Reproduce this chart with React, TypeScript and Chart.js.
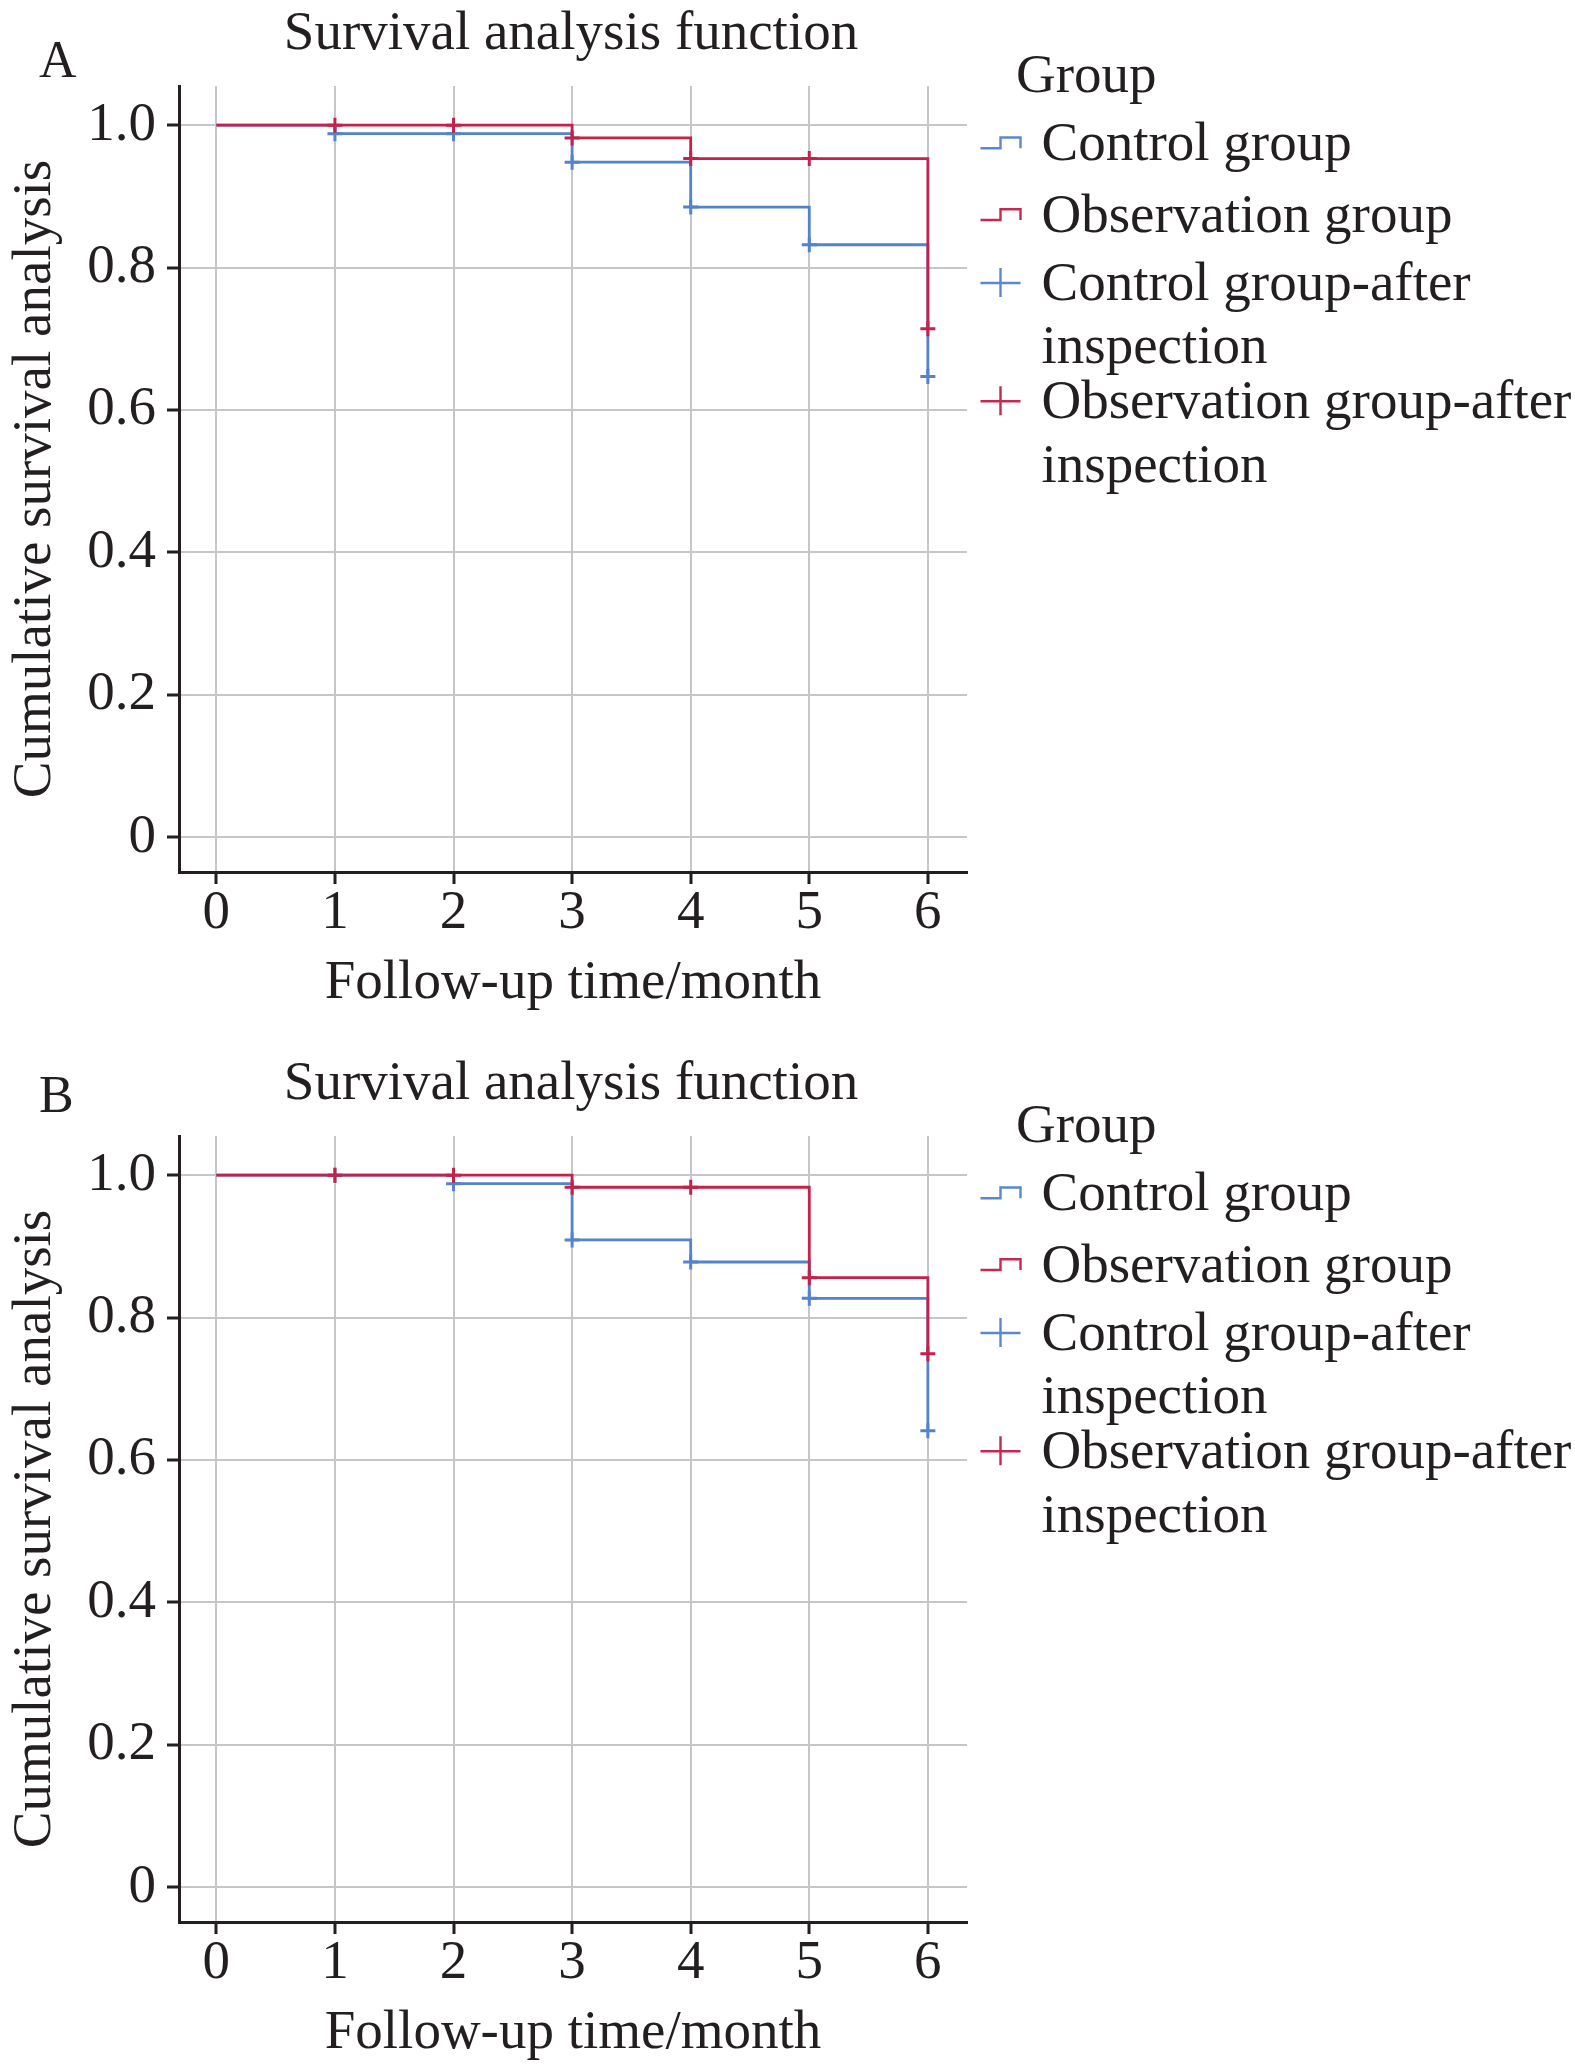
import React, { useEffect, useRef } from "react";
import { Chart, registerables } from "chart.js";

Chart.register(...registerables);

// ---------------- data ----------------
const months = [0, 1, 2, 3, 4, 5, 6];
const xTickLabels = ["0", "1", "2", "3", "4", "5", "6"];
const yTickValues = [0, 0.2, 0.4, 0.6, 0.8, 1.0];
const yTickLabels = ["0", "0.2", "0.4", "0.6", "0.8", "1.0"];

// Panel A – cumulative survival at each month (step drops at that month)
const controlA = [1.0, 0.988, 0.988, 0.948, 0.885, 0.832, 0.647];
const observationA = [1.0, 1.0, 1.0, 0.982, 0.953, 0.953, 0.714];
const controlCensorA = [null, 0.988, 0.988, 0.948, 0.885, 0.832, 0.647];
const observationCensorA = [null, 1.0, 1.0, 0.982, 0.953, 0.953, 0.714];

// Panel B
const controlB = [1.0, 1.0, 0.988, 0.909, 0.878, 0.827, 0.641];
const observationB = [1.0, 1.0, 1.0, 0.983, 0.983, 0.856, 0.749];
const controlCensorB = [null, 1.0, 0.988, 0.909, 0.878, 0.827, 0.641];
const observationCensorB = [null, 1.0, 1.0, 0.983, 0.983, 0.856, 0.749];

const panelLetters = ["A", "B"];
const chartTitle = "Survival analysis function";
const xAxisTitle = "Follow-up time/month";
const yAxisTitle = "Cumulative survival analysis";
const legendTitle = "Group";
const legendLabels = [
  ["Control group"],
  ["Observation group"],
  ["Control group-after", "inspection"],
  ["Observation group-after", "inspection"],
];
const legendSymbols = ["step", "step", "cross", "cross"];

// ---------------- styles ----------------
const FONT = '"Liberation Serif", "Times New Roman", serif';
const FS = 55;
const TEXT = "#231f20";
const BLUE = "#5283cc";
const RED = "#c4214b";
const LEGEND_BLUE = "#5b88cc";
const LEGEND_RED = "#c22a52";
const GRID = "#c6c6c6";
const W = 1575;
const H = 1021;
const PAD_BOTTOM = 4;

const toPoints = (vals: (number | null)[]) =>
  months
    .map((m, i) => ({ x: m, y: vals[i] }))
    .filter((p) => p.y !== null) as { x: number; y: number }[];

const decorPlugin = {
  id: "panelDecor",
  afterDraw(chart: any, _args: any, opts: any) {
    const ctx = chart.ctx as CanvasRenderingContext2D;
    ctx.save();
    ctx.fillStyle = TEXT;
    ctx.textBaseline = "alphabetic";
    // title
    ctx.font = `${FS}px ${FONT}`;
    ctx.textAlign = "center";
    ctx.fillText(opts.title, 571, 49);
    // panel letter
    ctx.font = `52px ${FONT}`;
    ctx.textAlign = "left";
    ctx.fillText(opts.letter, 39, opts.letterY);
    // legend
    ctx.font = `${FS}px ${FONT}`;
    ctx.fillText(legendTitle, 1016, 92);
    const baselines = [160, 231.7, 300, 418.3];
    const colors = [LEGEND_BLUE, LEGEND_RED, LEGEND_BLUE, LEGEND_RED];
    legendLabels.forEach((lines, i) => {
      const b = baselines[i];
      lines.forEach((ln, j) => ctx.fillText(ln, 1041.5, b + j * 63.3));
      ctx.strokeStyle = colors[i];
      ctx.lineWidth = 2.4;
      ctx.beginPath();
      if (legendSymbols[i] === "step") {
        const low = b - 11.7;
        const high = b - 22.5;
        ctx.moveTo(980.5, low);
        ctx.lineTo(1000.5, low);
        ctx.lineTo(1000.5, high);
        ctx.lineTo(1020.5, high);
        ctx.lineTo(1020.5, low);
      } else {
        const c = b - 17;
        ctx.moveTo(980.5, c);
        ctx.lineTo(1020.5, c);
        ctx.moveTo(1000.5, c - 15);
        ctx.lineTo(1000.5, c + 14);
      }
      ctx.stroke();
    });
    ctx.restore();
  },
};

function Panel(props: {
  top: number;
  letter: string;
  letterY: number;
  control: number[];
  observation: number[];
  controlCensor: (number | null)[];
  observationCensor: (number | null)[];
}) {
  const ref = useRef<HTMLCanvasElement | null>(null);
  useEffect(() => {
    if (!ref.current) return;
    const chart = new Chart(ref.current, {
      type: "line",
      data: {
        datasets: [
          {
            label: "Observation group-after inspection",
            data: toPoints(props.observationCensor),
            showLine: false,
            pointStyle: "cross",
            pointRadius: 7.5,
            pointBorderWidth: 3,
            pointBorderColor: RED,
            pointBackgroundColor: RED,
            borderColor: RED,
          },
          {
            label: "Control group-after inspection",
            data: toPoints(props.controlCensor),
            showLine: false,
            pointStyle: "cross",
            pointRadius: 7.5,
            pointBorderWidth: 3,
            pointBorderColor: BLUE,
            pointBackgroundColor: BLUE,
            borderColor: BLUE,
          },
          {
            label: "Observation group",
            data: toPoints(props.observation),
            stepped: "before",
            borderColor: RED,
            borderWidth: 2.8,
            pointRadius: 0,
            fill: false,
          },
          {
            label: "Control group",
            data: toPoints(props.control),
            stepped: "before",
            borderColor: BLUE,
            borderWidth: 2.8,
            pointRadius: 0,
            fill: false,
          },
        ],
      },
      options: {
        animation: false,
        responsive: false,
        devicePixelRatio: 1,
        layout: { padding: { top: 86, left: 0, right: W - 967, bottom: PAD_BOTTOM } },
        plugins: {
          legend: { display: false },
          tooltip: { enabled: false },
          title: { display: false },
          panelDecor: { title: chartTitle, letter: props.letter, letterY: props.letterY },
        } as any,
        scales: {
          x: {
            type: "linear",
            min: -0.315,
            max: 6.33,
            afterBuildTicks: (s: any) => {
              s.ticks = months.map((v) => ({ value: v }));
            },
            afterFit: (s: any) => {
              s.height = H - PAD_BOTTOM - 872;
            },
            ticks: {
              autoSkip: false,
              maxRotation: 0,
              padding: 2,
              color: TEXT,
              font: { family: FONT, size: FS, lineHeight: 1 },
              callback: (_v: any, i: number) => xTickLabels[i],
            },
            grid: {
              color: GRID,
              lineWidth: 2,
              drawTicks: true,
              tickLength: 12,
              tickColor: TEXT,
              tickWidth: 3,
            },
            border: { display: true, color: TEXT, width: 3 },
            title: {
              display: true,
              text: xAxisTitle,
              color: TEXT,
              font: { family: FONT, size: FS },
              padding: { top: 0, bottom: 0 },
            },
          },
          y: {
            type: "linear",
            min: -0.049,
            max: 1.055,
            afterBuildTicks: (s: any) => {
              s.ticks = yTickValues.map((v) => ({ value: v }));
            },
            afterFit: (s: any) => {
              s.width = 179;
            },
            ticks: {
              autoSkip: false,
              padding: 11,
              color: TEXT,
              font: { family: FONT, size: FS },
              callback: (_v: any, i: number) => yTickLabels[i],
            },
            grid: {
              color: GRID,
              lineWidth: 2,
              drawTicks: true,
              tickLength: 12,
              tickColor: TEXT,
              tickWidth: 3,
            },
            border: { display: true, color: TEXT, width: 3 },
            title: {
              display: true,
              text: yAxisTitle,
              color: TEXT,
              font: { family: FONT, size: FS },
              padding: { top: 3, bottom: 0 },
            },
          },
        },
      },
      plugins: [decorPlugin as any],
    });
    return () => chart.destroy();
  }, []);
  return (
    <canvas
      ref={ref}
      width={W}
      height={H}
      style={{ position: "absolute", left: 0, top: props.top, width: W, height: H }}
    />
  );
}

export default function App() {
  return (
    <div style={{ position: "absolute", left: 0, top: 0, width: W, height: 2071, background: "#fff", overflow: "hidden" }}>
      <Panel
        top={0}
        letter={panelLetters[0]}
        letterY={77}
        control={controlA}
        observation={observationA}
        controlCensor={controlCensorA}
        observationCensor={observationCensorA}
      />
      <Panel
        top={1050}
        letter={panelLetters[1]}
        letterY={62}
        control={controlB}
        observation={observationB}
        controlCensor={controlCensorB}
        observationCensor={observationCensorB}
      />
    </div>
  );
}
